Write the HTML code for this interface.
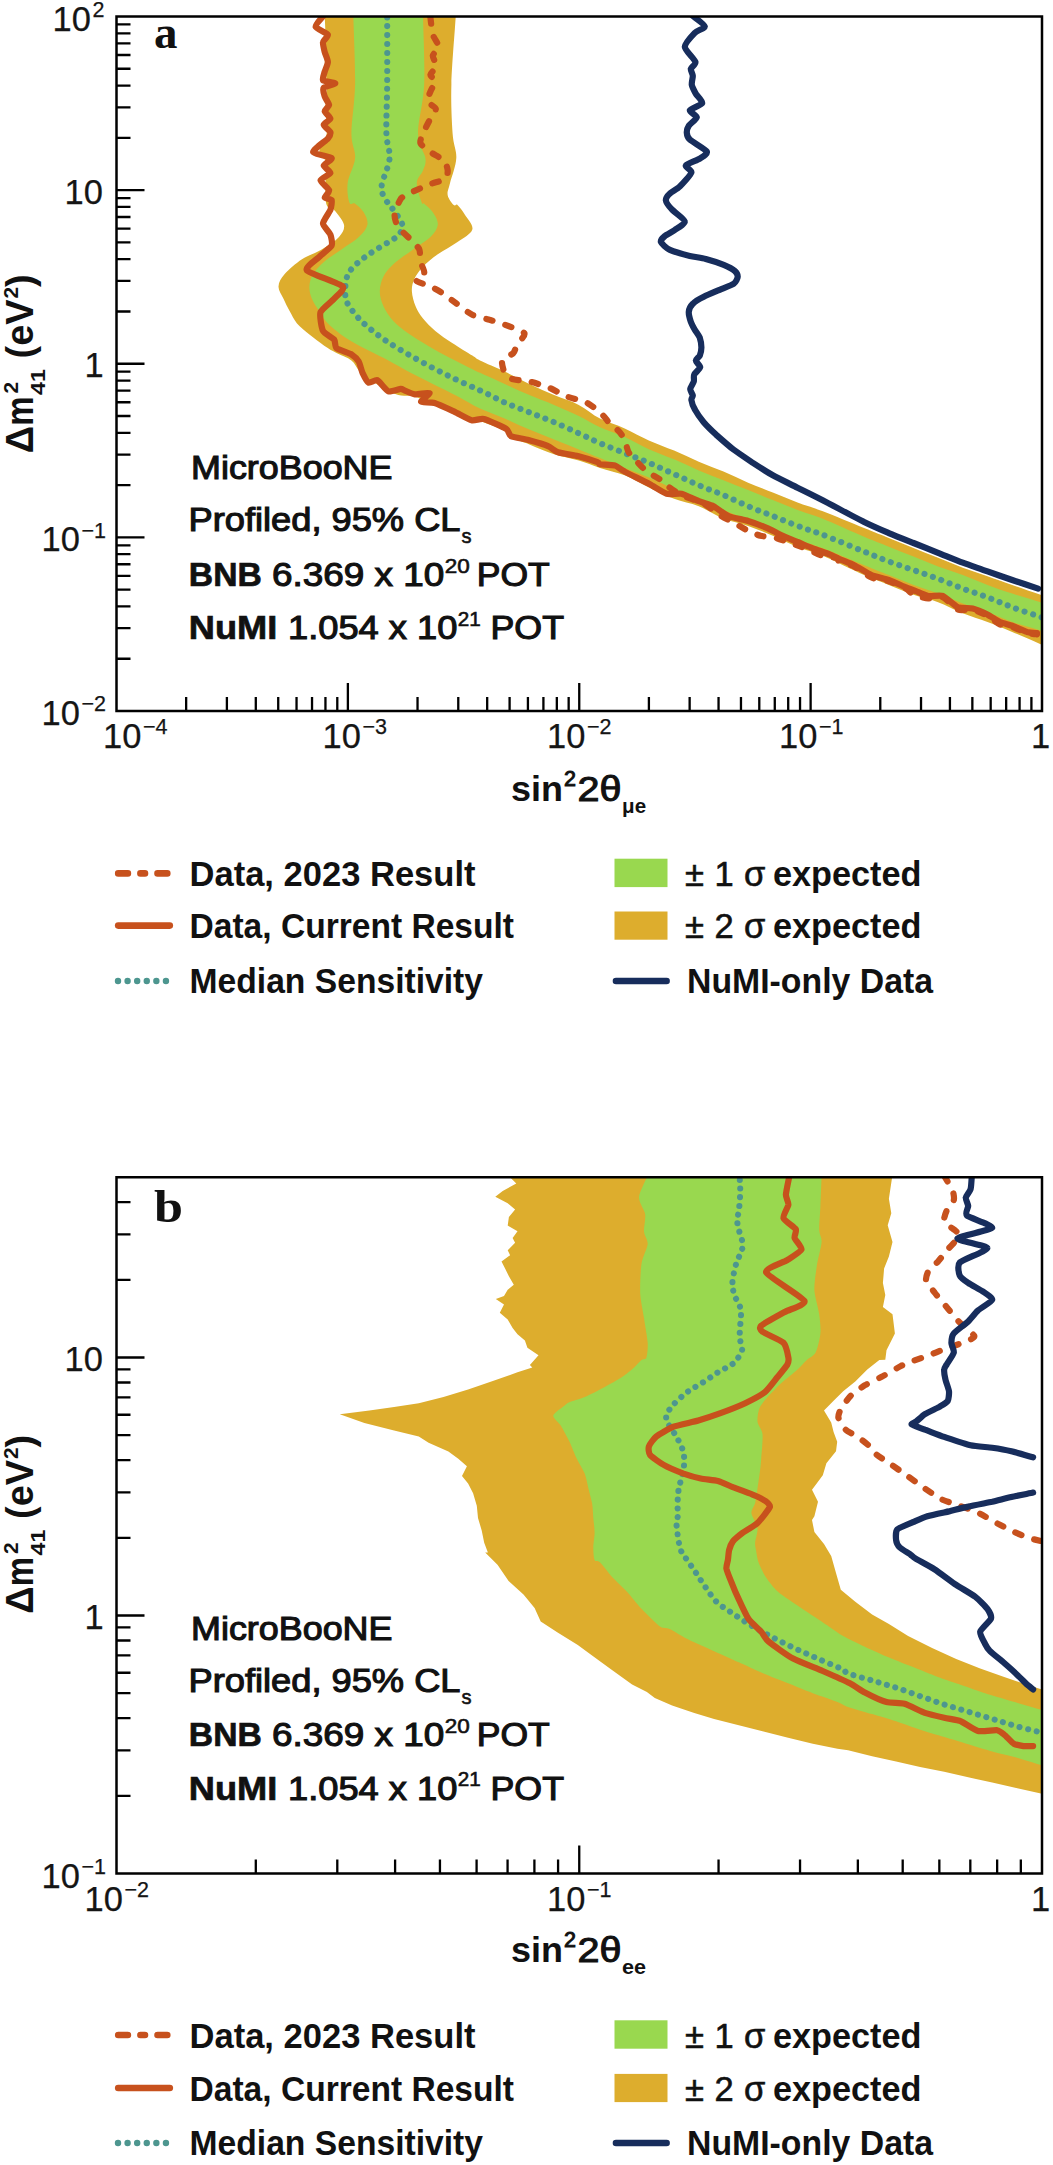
<!DOCTYPE html>
<html><head><meta charset="utf-8"><title>MicroBooNE exclusion limits</title>
<style>
html,body{margin:0;padding:0;background:#fff;}
body{width:1053px;height:2165px;overflow:hidden;font-family:"Liberation Sans",sans-serif;}
svg{display:block;}
text{font-family:"Liberation Sans",sans-serif;fill:#111;}
.tk{font-size:34.5px;fill:#151515;stroke:#151515;stroke-width:0.25px;}
.sup{font-size:21.5px;}
.lab{font-size:35px;font-weight:bold;}
.lab2{font-size:35px;stroke:#111;stroke-width:1.0px;}
.ann{font-size:33px;stroke:#111;stroke-width:1.1px;}
.b{font-weight:bold;stroke:#111;stroke-width:0.7px;}
.leg{font-size:34.5px;font-weight:bold;}
.legr{font-size:34.5px;stroke:#111;stroke-width:0.6px;}
.pl{font-family:"Liberation Serif",serif;font-weight:bold;font-size:47px;}
.ylab{font-size:38px;font-weight:bold;}
</style></head><body>
<svg width="1053" height="2165" viewBox="0 0 1053 2165">
<rect x="0" y="0" width="1053" height="2165" fill="#ffffff"/>

<clipPath id="ca"><rect x="116.5" y="16.5" width="925.5" height="694.5"/></clipPath>
<g clip-path="url(#ca)">
<path d="M324.7 -30.0 C302.8 -25.0 324.7 -7.5 324.7 0.0 C324.7 7.5 324.6 9.2 324.7 14.9 C324.8 20.7 325.4 27.3 325.4 34.7 C325.4 42.1 324.5 51.2 324.7 59.4 C324.9 67.6 326.5 75.8 326.7 84.1 C326.8 92.3 325.4 100.5 325.4 108.8 C325.4 117.0 327.7 126.3 326.7 133.5 C325.6 140.7 319.3 147.0 319.3 152.0 C319.3 156.9 325.6 157.9 326.7 163.1 C327.7 168.2 325.4 175.8 325.4 182.8 C325.4 189.8 325.2 200.6 326.7 205.1 C328.1 209.6 331.2 206.6 334.1 209.9 C337.0 213.1 343.1 220.2 344.0 224.7 C344.8 229.2 342.7 232.9 339.0 237.0 C335.3 241.2 327.9 245.7 321.7 249.4 C315.6 253.1 308.1 255.1 302.0 259.3 C295.8 263.4 288.6 269.5 284.7 274.1 C280.8 278.6 278.7 282.3 278.5 286.4 C278.3 290.5 281.6 294.7 283.5 298.8 C285.3 302.9 287.4 307.0 289.6 311.1 C291.9 315.2 293.7 319.5 297.0 323.5 C300.3 327.4 304.9 330.9 309.4 334.6 C313.9 338.3 319.7 342.6 324.2 345.7 C328.7 348.8 332.0 350.6 336.5 353.1 C341.1 355.6 347.7 357.6 351.4 360.5 C355.1 363.4 356.3 367.5 358.8 370.4 C361.2 373.3 362.1 374.9 366.2 377.8 C370.3 380.7 378.1 384.8 383.5 387.7 C388.8 390.5 393.0 393.6 398.3 395.1 C403.5 396.5 408.7 394.8 414.8 396.5 C420.9 398.2 428.0 402.2 434.6 405.0 C441.2 407.8 446.7 410.8 454.3 413.5 C461.9 416.2 471.6 418.1 480.0 421.0 C488.4 423.9 499.5 428.2 504.7 430.9 C509.8 433.5 506.7 434.8 510.9 437.0 C515.0 439.3 522.2 441.6 529.4 444.4 C536.6 447.3 545.8 451.6 554.1 454.3 C562.3 457.0 571.1 458.2 578.8 460.5 C586.4 462.8 592.3 465.4 600.0 467.9 C607.7 470.4 616.5 472.0 624.7 475.3 C632.9 478.6 641.2 483.7 649.4 487.7 C657.6 491.6 665.8 495.7 674.1 498.8 C682.3 501.9 690.5 502.9 698.8 506.2 C707.0 509.5 715.2 515.2 723.5 518.5 C731.7 521.8 739.9 523.0 748.1 525.9 C756.4 528.8 764.6 532.3 772.8 535.8 C781.1 539.3 789.3 543.6 797.5 546.9 C805.8 550.2 811.1 550.9 822.2 555.6 C833.3 560.2 853.0 570.2 864.1 575.1 C875.2 580.0 880.5 581.6 888.8 584.9 C897.0 588.2 905.2 591.9 913.5 594.8 C921.7 597.7 929.9 599.1 938.1 602.2 C946.4 605.3 954.6 610.0 962.8 613.3 C971.1 616.6 979.3 618.9 987.5 622.0 C995.8 625.1 1003.4 628.1 1012.2 631.9 C1021.1 635.6 1030.2 639.6 1040.6 644.2 C1051.1 648.7 1069.3 665.4 1075.0 659.1 C1080.7 652.9 1080.7 617.5 1075.0 606.8 C1069.3 596.1 1051.1 598.5 1040.6 594.8 C1030.2 591.2 1021.1 588.0 1012.2 584.9 C1003.4 581.9 995.8 579.2 987.5 576.3 C979.3 573.4 971.1 570.7 962.8 567.7 C954.6 564.6 946.4 561.1 938.1 557.8 C929.9 554.5 921.7 551.2 913.5 547.9 C905.2 544.6 897.0 541.3 888.8 538.0 C880.5 534.7 875.2 532.6 864.1 528.1 C853.0 523.7 833.3 515.4 822.2 511.1 C811.1 506.8 805.8 505.6 797.5 502.5 C789.3 499.4 781.1 495.9 772.8 492.6 C764.6 489.3 756.4 486.2 748.1 482.7 C739.9 479.2 731.7 475.1 723.5 471.6 C715.2 468.1 707.0 465.2 698.8 461.7 C690.5 458.2 682.3 454.1 674.1 450.6 C665.8 447.1 657.6 444.4 649.4 440.7 C641.2 437.0 632.9 432.1 624.7 428.4 C616.5 424.7 607.7 422.4 600.0 418.5 C592.3 414.6 586.4 408.8 578.8 404.9 C571.1 401.0 562.3 398.6 554.1 395.1 C545.8 391.6 537.6 387.9 529.4 384.0 C521.2 380.0 512.9 375.5 504.7 371.6 C496.5 367.7 485.4 363.2 480.0 360.5 C474.6 357.8 476.9 358.4 472.3 355.6 C467.8 352.7 458.8 347.3 452.6 343.2 C446.4 339.1 440.2 335.0 435.3 330.9 C430.4 326.7 426.3 322.6 423.0 318.5 C419.7 314.4 417.4 310.7 415.6 306.2 C413.7 301.6 412.1 295.9 411.9 291.4 C411.6 286.8 412.5 283.1 414.3 279.0 C416.2 274.9 419.1 270.8 423.0 266.7 C426.9 262.6 432.0 258.4 437.8 254.3 C443.5 250.2 451.8 246.1 457.5 242.0 C463.3 237.9 471.1 234.2 472.3 229.6 C473.6 225.1 467.4 218.9 464.9 214.8 C462.5 210.7 459.4 206.6 457.5 204.9 C455.7 203.3 455.5 206.7 453.8 205.1 C452.2 203.4 448.3 198.9 447.7 195.2 C447.0 191.5 448.7 189.0 450.1 182.8 C451.6 176.7 455.9 166.4 456.3 158.1 C456.7 149.9 453.4 145.8 452.6 133.5 C451.8 121.1 450.8 103.8 451.4 84.1 C451.9 64.3 455.1 29.0 455.8 14.9 C456.5 0.9 455.8 7.5 455.8 0.0 C455.8 -7.5 477.7 -25.0 455.8 -30.0 C433.9 -35.0 346.6 -35.0 324.7 -30.0Z" fill="#ddad2d"/>
<path d="M353.3 -30.0 C341.7 -25.0 353.3 -7.5 353.3 0.0 C353.3 7.5 353.0 0.9 353.3 14.9 C353.6 29.0 355.4 64.3 355.1 84.1 C354.7 103.8 351.4 121.1 351.4 133.5 C351.4 145.8 355.7 149.9 355.1 158.1 C354.4 166.4 348.6 175.4 347.7 182.8 C346.7 190.2 348.1 199.1 349.4 202.6 C350.6 206.1 352.7 202.1 355.1 203.7 C357.4 205.3 361.6 208.8 363.7 212.3 C365.8 215.8 368.2 220.6 367.4 224.7 C366.6 228.8 363.1 232.9 358.8 237.0 C354.4 241.2 347.2 245.3 341.5 249.4 C335.7 253.5 328.9 257.6 324.2 261.7 C319.5 265.8 315.6 270.0 313.1 274.1 C310.6 278.2 309.6 282.3 309.4 286.4 C309.2 290.5 310.2 294.7 311.9 298.8 C313.5 302.9 316.6 307.0 319.3 311.1 C321.9 315.2 323.4 318.9 327.9 323.5 C332.4 328.0 339.6 333.7 346.4 338.3 C353.2 342.8 361.6 346.9 368.6 350.6 C375.6 354.3 381.4 356.8 388.4 360.5 C395.4 364.2 403.2 368.9 410.6 372.8 C418.0 376.7 425.0 380.0 432.8 384.0 C440.7 387.9 449.7 392.2 457.5 396.3 C465.4 400.4 472.1 404.9 480.0 408.6 C487.9 412.3 496.5 415.0 504.7 418.5 C512.9 422.0 521.2 426.1 529.4 429.6 C537.6 433.1 545.8 436.2 554.1 439.5 C562.3 442.8 571.1 446.3 578.8 449.4 C586.4 452.5 592.3 454.9 600.0 458.0 C607.7 461.1 616.5 464.6 624.7 467.9 C632.9 471.2 641.2 474.3 649.4 477.8 C657.6 481.3 665.8 485.2 674.1 488.9 C682.3 492.6 690.5 496.5 698.8 500.0 C707.0 503.5 715.2 506.6 723.5 509.9 C731.7 513.2 739.9 516.5 748.1 519.8 C756.4 523.0 764.6 526.3 772.8 529.6 C781.1 532.9 789.3 536.4 797.5 539.5 C805.8 542.6 811.1 543.9 822.2 548.1 C833.3 552.4 853.0 560.7 864.1 565.2 C875.2 569.7 880.5 571.8 888.8 575.1 C897.0 578.4 905.2 581.9 913.5 584.9 C921.7 588.0 929.9 590.5 938.1 593.6 C946.4 596.7 954.6 600.4 962.8 603.5 C971.1 606.5 979.3 609.0 987.5 612.1 C995.8 615.2 1003.4 618.9 1012.2 622.0 C1021.1 625.1 1030.2 627.4 1040.6 630.6 C1051.1 633.8 1069.3 644.1 1075.0 641.1 C1080.7 638.1 1080.7 619.2 1075.0 612.7 C1069.3 606.2 1051.1 605.4 1040.6 602.2 C1030.2 599.0 1021.1 596.5 1012.2 593.6 C1003.4 590.7 995.8 588.0 987.5 584.9 C979.3 581.9 971.1 578.1 962.8 575.1 C954.6 572.0 946.4 569.5 938.1 566.4 C929.9 563.3 921.7 559.8 913.5 556.5 C905.2 553.3 897.0 550.0 888.8 546.7 C880.5 543.4 875.2 541.5 864.1 536.8 C853.0 532.1 833.3 523.0 822.2 518.5 C811.1 514.0 805.8 513.0 797.5 509.9 C789.3 506.8 781.1 503.3 772.8 500.0 C764.6 496.7 756.4 493.4 748.1 490.1 C739.9 486.8 731.7 483.5 723.5 480.2 C715.2 477.0 707.0 473.9 698.8 470.4 C690.5 466.9 682.3 462.8 674.1 459.3 C665.8 455.8 657.6 453.1 649.4 449.4 C641.2 445.7 632.9 440.7 624.7 437.0 C616.5 433.3 607.7 430.7 600.0 427.2 C592.3 423.7 586.4 419.8 578.8 416.0 C571.1 412.3 562.3 408.4 554.1 404.9 C545.8 401.4 537.6 398.6 529.4 395.1 C521.2 391.6 512.9 387.7 504.7 384.0 C496.5 380.2 485.0 375.1 480.0 372.8 C475.0 370.6 479.8 372.8 474.8 370.4 C469.8 367.9 457.9 362.1 450.1 358.0 C442.3 353.9 434.9 349.8 427.9 345.7 C420.9 341.6 413.9 337.4 408.1 333.3 C402.4 329.2 397.4 325.5 393.3 321.0 C389.2 316.5 385.7 311.1 383.5 306.2 C381.2 301.2 379.8 296.3 379.8 291.4 C379.8 286.4 381.2 281.1 383.5 276.5 C385.7 272.0 388.4 268.7 393.3 264.2 C398.3 259.7 406.9 253.9 413.1 249.4 C419.3 244.9 426.3 241.2 430.4 237.0 C434.5 232.9 437.4 228.8 437.8 224.7 C438.2 220.6 435.1 215.8 432.8 212.3 C430.6 208.8 426.0 205.3 424.2 203.7 C422.3 202.1 423.0 206.1 421.7 202.6 C420.5 199.1 416.6 188.2 416.8 182.8 C417.0 177.5 421.5 174.6 423.0 170.5 C424.4 166.4 426.3 164.3 425.4 158.1 C424.6 152.0 418.2 145.8 418.0 133.5 C417.8 121.1 423.4 103.8 424.2 84.1 C425.0 64.3 423.2 29.0 423.0 14.9 C422.8 0.9 423.0 7.5 423.0 0.0 C423.0 -7.5 434.6 -25.0 423.0 -30.0 C411.4 -35.0 364.9 -35.0 353.3 -30.0Z" fill="#99d84f"/>
<path d="M387.2 17.4 C387.2 28.5 387.3 64.7 387.2 84.1 C387.0 103.4 386.0 121.1 386.4 133.5 C386.8 145.8 390.3 149.9 389.6 158.1 C388.9 166.4 383.5 177.1 382.2 182.8 C381.0 188.6 381.2 189.2 382.2 192.7 C383.3 196.2 386.5 201.0 388.4 203.8 C390.2 206.7 391.1 206.6 393.3 209.9 C395.6 213.1 400.7 219.8 402.0 223.5 C403.2 227.2 402.0 229.6 400.7 232.1 C399.5 234.6 398.3 235.6 394.6 238.3 C390.9 240.9 383.7 244.9 378.5 248.1 C373.4 251.4 368.2 254.5 363.7 258.0 C359.2 261.5 354.2 265.6 351.4 269.1 C348.5 272.6 347.4 274.9 346.4 279.0 C345.4 283.1 345.0 289.7 345.2 293.8 C345.4 297.9 345.4 299.6 347.7 303.7 C349.9 307.8 354.9 314.2 358.8 318.5 C362.7 322.8 366.6 325.9 371.1 329.6 C375.6 333.3 379.8 336.6 385.9 340.7 C392.1 344.9 400.3 349.8 408.1 354.3 C416.0 358.8 424.6 363.6 432.8 367.9 C441.1 372.2 449.3 376.3 457.5 380.2 C465.8 384.2 474.4 387.7 482.2 391.4 C490.1 395.1 496.8 399.0 504.7 402.5 C512.6 406.0 521.2 409.1 529.4 412.3 C537.6 415.6 545.8 418.7 554.1 422.2 C562.3 425.7 571.1 429.8 578.8 433.3 C586.4 436.8 592.3 439.9 600.0 443.2 C607.7 446.5 616.5 449.8 624.7 453.1 C632.9 456.4 641.2 459.5 649.4 463.0 C657.6 466.5 665.8 470.4 674.1 474.1 C682.3 477.8 690.5 481.7 698.8 485.2 C707.0 488.7 715.2 491.6 723.5 495.1 C731.7 498.6 739.9 502.7 748.1 506.2 C756.4 509.7 764.6 512.8 772.8 516.0 C781.1 519.3 789.3 522.8 797.5 525.9 C805.8 529.0 811.1 530.3 822.2 534.6 C833.3 538.8 853.0 547.1 864.1 551.6 C875.2 556.1 880.5 558.4 888.8 561.5 C897.0 564.6 905.2 567.2 913.5 570.1 C921.7 573.0 929.9 575.7 938.1 578.8 C946.4 581.9 954.6 585.6 962.8 588.6 C971.1 591.7 979.3 594.2 987.5 597.3 C995.8 600.4 1003.4 603.9 1012.2 607.2 C1021.1 610.5 1034.9 615.0 1040.6 617.0 C1046.4 619.1 1045.8 619.1 1046.8 619.5" fill="none" stroke="#4d968f" stroke-width="6.1" stroke-linecap="round" stroke-dasharray="0.01 8.9"/>
<path d="M430.4 17.4 C430.7 19.4 431.8 31.2 432.8 34.7 C433.8 38.1 439.0 44.6 439.0 47.0 C439.0 49.5 433.1 53.4 432.8 55.7 C432.6 57.9 436.8 64.1 436.5 66.3 C436.3 68.5 430.5 72.9 430.4 74.7 C430.3 76.5 435.7 79.9 435.8 81.6 C435.9 83.3 432.6 86.7 431.6 89.0 C430.6 91.3 426.9 99.1 427.4 101.4 C427.9 103.7 435.6 106.5 435.8 108.8 C436.0 111.1 430.6 118.2 429.1 121.1 C427.6 124.0 424.0 130.9 423.0 133.5 C422.0 136.0 419.6 141.2 420.5 143.3 C421.4 145.5 427.6 150.0 430.4 152.0 C433.1 154.0 441.9 158.5 444.0 160.6 C446.0 162.8 447.5 168.3 447.7 170.5 C447.8 172.7 447.2 177.6 445.2 179.1 C443.2 180.7 434.4 182.5 430.4 184.1 C426.3 185.7 414.1 191.0 410.6 192.7 C407.2 194.4 402.6 196.3 400.7 198.9 C398.9 201.5 394.9 211.5 394.6 214.8 C394.3 218.1 396.4 224.3 398.3 227.2 C400.1 230.0 408.2 236.9 410.6 239.5 C413.1 242.1 418.1 246.8 419.3 249.4 C420.4 252.0 419.9 259.0 420.5 261.7 C421.1 264.5 424.8 270.7 424.2 272.8 C423.6 275.0 414.8 278.7 415.6 280.2 C416.3 281.8 427.3 285.0 430.4 286.4 C433.4 287.9 438.6 290.7 441.5 292.6 C444.4 294.5 451.5 299.9 455.1 302.5 C458.7 305.1 468.3 312.8 472.3 314.8 C476.4 316.8 485.9 318.6 489.6 319.8 C493.4 320.9 500.6 323.1 504.7 324.7 C508.8 326.3 523.0 331.0 524.4 333.3 C525.9 335.6 518.3 342.1 517.0 344.4 C515.7 346.7 515.1 351.2 513.3 353.1 C511.6 355.0 503.2 358.2 502.2 360.5 C501.2 362.8 503.5 370.7 504.7 372.8 C505.8 375.0 509.2 378.0 512.1 379.0 C515.0 380.0 525.1 380.5 529.4 381.5 C533.7 382.5 544.8 385.9 549.1 387.7 C553.5 389.4 562.1 394.6 566.4 396.3 C570.7 398.0 582.3 400.6 586.2 402.5 C590.1 404.3 597.2 409.9 600.0 412.3 C602.8 414.8 607.7 421.3 609.9 423.5 C612.0 425.6 616.8 429.0 618.5 430.9 C620.2 432.7 623.5 437.1 624.7 439.5 C625.8 442.0 627.0 449.3 628.4 451.9 C629.8 454.4 634.9 459.4 637.0 461.7 C639.2 464.0 644.3 469.6 646.9 471.6 C649.5 473.6 656.8 477.3 659.3 479.0 C661.7 480.7 665.3 484.5 667.9 486.4 C670.5 488.3 677.3 493.0 681.5 495.1 C685.7 497.1 699.1 501.3 703.7 503.7 C708.3 506.2 717.5 513.9 721.0 516.0 C724.4 518.2 730.5 520.6 733.3 522.2 C736.2 523.8 742.5 528.0 745.7 529.6 C748.8 531.2 757.3 534.9 760.5 535.8 C763.7 536.7 769.7 536.3 772.8 537.0 C776.0 537.8 783.9 540.7 787.7 542.0 C791.4 543.3 800.9 546.6 804.9 548.1 C809.0 549.7 818.5 554.4 822.2 555.6 C826.0 556.7 835.0 557.3 837.0 558.0 C839.0 558.7 837.4 560.5 839.4 561.5 C841.4 562.5 850.5 564.5 854.2 566.4 C857.9 568.3 867.4 575.8 871.5 577.5 C875.5 579.3 884.7 579.9 888.8 581.2 C892.8 582.5 903.2 587.1 906.0 588.6 C908.9 590.2 910.9 593.7 913.5 594.8 C916.0 596.0 924.8 598.2 928.3 598.5 C931.7 598.8 939.6 596.0 943.1 597.3 C946.5 598.6 954.4 608.2 957.9 609.6 C961.4 611.1 969.3 608.9 972.7 609.6 C976.2 610.3 984.4 614.1 987.5 615.8 C990.7 617.5 997.0 623.1 999.9 624.4 C1002.8 625.7 1009.1 625.9 1012.2 626.9 C1015.4 627.9 1024.2 632.2 1027.0 633.1 C1029.9 634.0 1035.8 634.2 1036.9 634.3" fill="none" stroke="#c7511d" stroke-width="6.2" stroke-linecap="round" stroke-linejoin="round" stroke-dasharray="6.5 13.5"/>
<path d="M323.0 16.2 C322.2 17.2 315.1 24.9 315.6 26.8 C316.0 28.6 327.2 33.2 327.9 34.7 C328.6 36.2 323.3 40.4 323.0 42.1 C322.6 43.8 324.2 50.0 324.7 52.0 C325.2 54.0 327.9 59.9 327.9 61.9 C327.9 63.8 325.2 69.9 324.7 71.7 C324.2 73.6 321.9 79.2 323.0 80.4 C324.0 81.5 335.2 82.6 335.3 83.3 C335.4 84.1 324.8 86.5 323.7 87.8 C322.6 89.1 324.1 94.7 324.7 96.4 C325.2 98.1 329.1 103.6 329.1 105.1 C329.1 106.5 324.6 109.9 324.7 111.2 C324.8 112.6 330.5 117.3 330.4 118.6 C330.3 120.0 323.7 123.5 323.7 124.8 C323.7 126.2 330.0 130.9 330.4 132.2 C330.8 133.6 329.6 136.4 327.9 138.4 C326.2 140.4 312.7 150.0 313.1 152.0 C313.5 154.0 330.5 156.8 331.6 158.1 C332.7 159.5 323.8 164.1 323.7 165.6 C323.6 167.0 330.7 171.5 330.4 173.0 C330.0 174.4 320.6 178.6 320.5 180.4 C320.4 182.1 328.7 188.5 329.1 190.2 C329.6 192.0 324.4 196.7 324.7 197.7 C324.9 198.6 331.0 198.8 331.6 200.0 C332.2 201.2 331.2 207.5 330.4 209.9 C329.5 212.2 323.0 221.0 323.0 223.5 C323.0 225.9 329.5 232.3 330.4 234.6 C331.2 236.8 332.7 243.5 331.6 245.7 C330.5 247.9 321.7 254.3 319.3 256.8 C316.8 259.3 304.6 267.4 306.9 270.4 C309.3 273.3 340.0 283.6 342.7 286.4 C345.4 289.3 336.3 296.2 334.1 298.8 C331.9 301.4 321.6 309.1 320.5 312.3 C319.4 315.6 321.6 328.1 323.0 330.9 C324.3 333.6 332.7 337.8 334.1 339.5 C335.4 341.2 334.8 346.7 336.5 348.1 C338.3 349.6 349.1 353.0 351.4 354.3 C353.6 355.7 357.7 359.9 358.8 361.7 C359.9 363.6 361.5 370.7 362.5 372.8 C363.5 374.9 367.2 382.0 368.6 382.7 C370.1 383.5 375.3 379.4 377.3 380.2 C379.3 381.1 386.0 390.5 388.4 391.4 C390.7 392.2 399.1 389.0 400.7 388.9 C402.4 388.8 403.5 390.1 404.9 390.6 C406.3 391.2 412.3 394.1 414.8 394.3 C417.3 394.6 429.0 392.3 429.6 393.1 C430.2 393.8 420.5 400.7 421.0 401.7 C421.5 402.7 431.2 402.0 434.6 403.0 C437.9 404.0 450.6 409.9 454.3 411.6 C458.0 413.3 468.6 419.5 471.6 420.2 C474.6 421.0 480.5 418.1 484.0 419.0 C487.4 419.9 503.5 427.2 506.2 428.9 C508.9 430.6 508.9 435.2 511.1 436.3 C513.3 437.4 524.7 439.0 528.4 440.0 C532.1 441.0 545.2 444.9 548.1 446.2 C551.1 447.4 555.1 451.4 558.0 452.3 C561.0 453.3 573.8 455.1 577.8 456.0 C581.7 457.0 595.3 461.4 597.5 462.2 C599.8 463.0 598.3 463.9 600.0 464.2 C601.7 464.5 612.3 464.7 614.8 465.4 C617.3 466.2 621.2 469.8 624.7 471.6 C628.1 473.5 645.2 481.7 649.4 484.0 C653.6 486.2 663.5 492.8 666.7 493.8 C669.9 494.8 678.3 493.1 681.5 493.8 C684.7 494.6 695.6 500.0 698.8 501.2 C702.0 502.5 710.6 504.7 713.6 506.2 C716.5 507.7 724.9 514.6 728.4 516.0 C731.9 517.5 744.2 519.8 748.1 521.0 C752.1 522.2 764.4 526.9 767.9 528.4 C771.4 529.9 779.8 534.4 782.7 535.8 C785.7 537.2 794.6 540.7 797.5 542.0 C800.5 543.2 809.1 546.9 812.3 548.1 C815.6 549.4 826.9 553.2 829.6 554.3 C832.3 555.4 836.9 557.9 839.4 559.0 C841.8 560.1 851.0 563.6 854.2 565.2 C857.4 566.8 868.0 573.6 871.5 575.1 C874.9 576.5 885.3 578.8 888.8 580.0 C892.2 581.2 903.3 586.3 906.0 587.4 C908.8 588.5 913.7 590.2 915.9 591.1 C918.1 592.0 925.6 595.6 928.3 596.0 C931.0 596.5 940.1 594.9 943.1 596.0 C946.0 597.2 954.9 605.9 957.9 607.2 C960.9 608.4 969.8 607.7 972.7 608.4 C975.7 609.1 984.8 613.2 987.5 614.6 C990.2 615.9 997.4 620.9 999.9 622.0 C1002.3 623.1 1009.5 624.7 1012.2 625.7 C1014.9 626.7 1024.6 631.1 1027.0 631.9 C1029.5 632.6 1035.9 633.0 1036.9 633.1" fill="none" stroke="#c7511d" stroke-width="6.2" stroke-linecap="round" stroke-linejoin="round"/>
<path d="M692.8 16.0 C694.2 17.2 704.5 24.4 704.8 26.4 C705.0 28.3 697.1 30.5 694.8 32.9 C692.5 35.3 684.7 43.5 684.8 46.9 C684.9 50.3 694.7 59.3 695.4 61.9 C696.1 64.4 691.1 67.2 690.8 68.8 C690.5 70.5 692.7 74.0 692.8 75.8 C692.9 77.7 691.4 82.7 691.8 84.8 C692.1 86.9 694.6 91.6 695.8 93.8 C697.0 95.9 702.9 101.2 702.2 103.1 C701.5 105.1 690.4 108.7 689.8 110.3 C689.2 112.0 696.9 115.5 696.8 117.3 C696.7 119.1 690.0 123.9 688.8 125.7 C687.6 127.5 686.7 131.0 686.8 132.7 C686.9 134.3 687.5 137.4 689.8 139.6 C692.1 141.8 705.6 149.4 706.8 151.6 C707.9 153.8 702.2 157.0 699.8 158.6 C697.3 160.2 686.8 163.9 685.8 165.6 C684.8 167.2 692.1 170.1 691.4 172.5 C690.7 175.0 682.3 184.1 679.8 186.5 C677.3 188.9 671.5 191.9 669.9 193.5 C668.2 195.1 665.6 198.6 665.9 200.5 C666.1 202.3 669.6 207.0 671.9 209.4 C674.1 211.9 684.5 219.0 684.8 221.4 C685.2 223.8 677.2 228.3 674.8 230.0 C672.5 231.7 666.5 234.6 664.9 236.0 C663.2 237.4 660.3 240.3 660.9 241.9 C661.5 243.6 666.5 248.3 669.9 249.9 C673.2 251.5 685.6 254.9 689.8 255.9 C694.0 256.9 701.8 257.8 705.8 258.9 C709.7 259.9 720.3 263.5 723.7 264.9 C727.1 266.3 733.1 269.5 734.7 270.9 C736.3 272.3 737.8 275.3 737.7 276.8 C737.6 278.4 735.8 282.3 733.7 283.8 C731.6 285.3 723.2 288.3 719.7 289.8 C716.2 291.3 706.9 295.2 703.8 296.8 C700.6 298.4 694.5 302.0 692.8 303.8 C691.1 305.5 689.0 309.6 688.8 311.7 C688.6 313.8 690.1 319.6 690.8 321.7 C691.5 323.8 693.7 327.8 694.8 329.7 C695.8 331.6 699.0 335.6 699.8 337.7 C700.5 339.8 701.4 345.5 701.4 347.6 C701.4 349.7 700.4 354.1 699.8 355.6 C699.1 357.1 695.7 359.3 695.8 360.6 C695.8 362.0 700.4 365.6 700.2 367.2 C700.0 368.8 694.9 372.9 694.2 374.6 C693.4 376.2 694.3 379.8 693.8 381.5 C693.3 383.2 690.3 387.5 690.2 389.1 C690.1 390.8 692.7 394.2 692.8 395.5 C692.9 396.8 691.1 398.3 691.4 400.0 C691.6 401.7 693.6 407.3 695.1 409.9 C696.5 412.5 701.3 419.3 703.7 422.2 C706.2 425.1 712.6 431.4 716.0 434.6 C719.5 437.7 729.0 446.1 733.3 449.4 C737.7 452.7 748.5 459.9 753.1 463.0 C757.7 466.0 767.7 472.4 772.8 475.3 C778.0 478.2 791.8 484.8 797.5 487.7 C803.3 490.5 814.5 496.0 822.2 500.0 C830.0 504.0 856.3 518.1 864.1 522.0 C871.8 525.8 883.0 530.6 888.8 533.1 C894.5 535.5 907.7 540.7 913.5 543.0 C919.2 545.3 932.4 550.5 938.1 552.8 C943.9 555.1 957.1 560.6 962.8 562.7 C968.6 564.9 981.8 569.3 987.5 571.4 C993.3 573.4 1006.3 578.0 1012.2 580.0 C1018.1 582.0 1035.1 587.6 1038.1 588.6" fill="none" stroke="#172d5c" stroke-width="6.2" stroke-linecap="round" stroke-linejoin="round"/>
</g>
<path d="M186.15 711.0 v-14 M116.5 658.73 h14 M226.89 711.0 v-14 M116.5 628.16 h14 M255.80 711.0 v-14 M116.5 606.47 h14 M278.22 711.0 v-14 M116.5 589.64 h14 M296.54 711.0 v-14 M116.5 575.89 h14 M312.03 711.0 v-14 M116.5 564.27 h14 M325.45 711.0 v-14 M116.5 554.20 h14 M337.29 711.0 v-14 M116.5 545.32 h14 M347.88 711.0 v-28 M116.5 537.38 h28 M417.53 711.0 v-14 M116.5 485.11 h14 M458.27 711.0 v-14 M116.5 454.53 h14 M487.18 711.0 v-14 M116.5 432.84 h14 M509.60 711.0 v-14 M116.5 416.02 h14 M527.92 711.0 v-14 M116.5 402.27 h14 M543.41 711.0 v-14 M116.5 390.64 h14 M556.83 711.0 v-14 M116.5 380.58 h14 M568.66 711.0 v-14 M116.5 371.69 h14 M579.25 711.0 v-28 M116.5 363.75 h28 M648.90 711.0 v-14 M116.5 311.48 h14 M689.64 711.0 v-14 M116.5 280.91 h14 M718.55 711.0 v-14 M116.5 259.22 h14 M740.97 711.0 v-14 M116.5 242.39 h14 M759.29 711.0 v-14 M116.5 228.64 h14 M774.78 711.0 v-14 M116.5 217.02 h14 M788.20 711.0 v-14 M116.5 206.95 h14 M800.04 711.0 v-14 M116.5 198.07 h14 M810.62 711.0 v-28 M116.5 190.12 h28 M880.28 711.0 v-14 M116.5 137.86 h14 M921.02 711.0 v-14 M116.5 107.28 h14 M949.93 711.0 v-14 M116.5 85.59 h14 M972.35 711.0 v-14 M116.5 68.77 h14 M990.67 711.0 v-14 M116.5 55.02 h14 M1006.16 711.0 v-14 M116.5 43.39 h14 M1019.58 711.0 v-14 M116.5 33.33 h14 M1031.41 711.0 v-14 M116.5 24.44 h14" stroke="#000" stroke-width="2.3" fill="none"/>
<path d="M116.5 16.5 H1042.0 V711.0 H116.5 Z" stroke="#000" stroke-width="2.5" fill="none"/>
<clipPath id="cb"><rect x="116.5" y="1177.2" width="925.5" height="696.3"/></clipPath>
<g clip-path="url(#cb)">
<polygon points="507.7,1174.9 516.3,1183.6 502.7,1191.0 495.3,1196.7 507.7,1203.3 515.1,1209.5 508.9,1216.9 507.7,1225.6 517.5,1231.2 512.6,1237.9 515.1,1242.8 507.7,1250.2 510.1,1255.2 501.5,1261.4 505.2,1268.8 508.9,1276.2 513.8,1284.8 507.7,1289.8 504.0,1295.9 495.8,1298.9 504.0,1304.6 499.8,1312.7 507.7,1319.4 512.6,1328.0 517.5,1334.2 524.9,1340.4 527.4,1347.8 538.5,1355.2 529.9,1365.1 532.3,1367.4 517.5,1372.3 492.8,1381.0 468.1,1389.6 443.5,1397.0 418.8,1403.2 394.1,1406.9 369.4,1410.6 339.8,1414.3 364.4,1423.0 394.1,1430.4 418.8,1436.5 428.6,1442.7 448.4,1451.4 458.3,1458.8 466.9,1466.2 462.0,1476.0 468.1,1483.5 473.1,1493.3 476.8,1505.7 478.0,1518.0 481.7,1530.4 484.2,1542.7 487.9,1552.6 485.2,1552.5 497.5,1564.8 508.6,1580.9 523.5,1594.4 534.6,1608.0 540.7,1621.6 558.0,1632.7 577.8,1645.1 591.4,1654.9 609.9,1668.5 632.1,1684.6 646.9,1692.0 654.8,1698.1 672.1,1705.6 694.3,1713.0 714.1,1719.1 738.8,1725.3 763.5,1731.5 788.1,1737.7 812.8,1743.8 837.5,1748.8 848.1,1750.2 872.1,1756.2 896.1,1761.5 920.1,1767.0 944.2,1771.8 968.2,1777.3 992.2,1782.6 1016.2,1787.9 1043.9,1794.1 1043.9,1690.1 1028.3,1685.3 1004.2,1676.9 980.2,1668.5 956.2,1658.9 932.1,1648.1 908.1,1636.0 888.9,1624.0 872.1,1614.4 855.3,1601.7 840.8,1589.7 836.0,1572.9 831.2,1556.0 824.0,1544.0 814.4,1532.0 812.0,1520.0 814.4,1516.2 818.0,1501.8 812.0,1489.7 822.8,1475.3 826.4,1463.3 836.0,1451.3 837.2,1441.7 833.6,1432.1 831.2,1422.5 824.0,1410.5 833.6,1400.8 843.2,1391.2 855.3,1381.6 867.3,1369.6 879.3,1360.0 885.3,1359.8 886.5,1350.2 894.9,1333.4 892.5,1314.2 882.9,1307.0 885.3,1294.9 882.9,1282.9 884.1,1268.5 888.9,1256.5 892.5,1242.1 887.7,1225.3 891.3,1213.2 888.9,1198.8 892.5,1174.8" fill="#ddad2d"/>
<path d="M647.6 1140.0 C624.4 1143.3 647.6 1160.3 647.6 1165.0 C647.6 1169.7 648.8 1170.7 647.7 1174.9 C646.5 1179.2 639.3 1191.9 639.0 1197.2 C638.7 1202.4 644.5 1209.8 645.2 1214.4 C645.8 1219.1 643.6 1227.8 644.0 1231.7 C644.3 1235.7 648.0 1239.8 647.7 1244.1 C647.3 1248.4 642.5 1257.2 641.5 1263.8 C640.5 1270.4 639.9 1286.2 640.2 1293.5 C640.6 1300.7 643.0 1311.6 644.0 1318.1 C644.9 1324.7 647.3 1337.6 647.7 1342.8 C648.0 1348.1 647.2 1355.4 646.4 1357.7 C645.6 1359.9 643.1 1358.7 641.5 1360.0 C639.8 1361.3 636.7 1365.1 634.1 1367.4 C631.4 1369.7 625.7 1374.7 621.7 1377.3 C617.8 1379.9 609.4 1384.5 604.4 1387.2 C599.5 1389.8 589.3 1395.1 584.7 1397.0 C580.1 1399.0 572.6 1400.8 569.9 1402.0 C567.2 1403.1 566.7 1403.9 564.4 1405.7 C562.2 1407.5 553.8 1412.9 553.3 1415.6 C552.8 1418.2 558.6 1422.0 560.7 1425.4 C562.9 1428.9 567.2 1437.0 569.4 1441.5 C571.5 1445.9 574.7 1454.5 576.8 1458.8 C578.8 1463.0 583.1 1469.6 584.7 1473.6 C586.2 1477.5 587.4 1484.4 588.4 1488.4 C589.4 1492.3 591.4 1499.3 592.1 1503.2 C592.8 1507.2 593.0 1514.1 593.3 1518.0 C593.7 1522.0 594.6 1528.9 594.6 1532.8 C594.6 1536.8 593.3 1544.0 593.3 1547.7 C593.3 1551.3 593.7 1558.0 594.6 1560.0 C595.5 1562.0 597.6 1560.1 600.0 1562.3 C602.4 1564.6 608.7 1573.2 612.3 1577.2 C616.0 1581.1 623.2 1587.7 627.2 1592.0 C631.1 1596.3 637.6 1604.7 642.0 1609.3 C646.4 1613.9 656.3 1623.9 660.0 1626.5 C663.7 1629.2 665.7 1627.2 669.6 1629.0 C673.5 1630.8 683.5 1637.2 689.4 1640.1 C695.3 1643.1 707.5 1648.3 714.1 1651.2 C720.7 1654.2 732.2 1659.4 738.8 1662.3 C745.3 1665.3 756.9 1670.7 763.5 1673.5 C770.0 1676.3 781.6 1680.7 788.1 1683.3 C794.7 1686.0 806.3 1690.7 812.8 1693.2 C819.4 1695.7 832.8 1700.0 837.5 1701.9 C842.2 1703.7 843.4 1705.3 848.1 1706.9 C852.7 1708.6 865.7 1712.2 872.1 1714.1 C878.5 1716.0 889.7 1719.3 896.1 1721.3 C902.5 1723.4 913.7 1727.7 920.1 1729.7 C926.5 1731.8 937.8 1735.0 944.2 1737.0 C950.6 1738.9 961.8 1742.2 968.2 1744.2 C974.6 1746.1 985.8 1749.6 992.2 1751.4 C998.6 1753.1 1009.4 1755.5 1016.2 1757.4 C1023.1 1759.3 1036.7 1763.8 1043.9 1765.8 C1051.0 1767.7 1066.5 1778.5 1070.0 1772.0 C1073.5 1765.5 1073.5 1725.2 1070.0 1717.0 C1066.5 1708.8 1052.3 1712.8 1043.9 1710.5 C1035.4 1708.2 1014.8 1702.1 1006.6 1699.7 C998.5 1697.3 989.0 1694.6 982.6 1692.5 C976.2 1690.4 965.0 1686.3 958.6 1684.1 C952.2 1681.9 941.0 1678.1 934.6 1675.7 C928.1 1673.3 916.9 1668.6 910.5 1666.1 C904.1 1663.5 892.9 1659.2 886.5 1656.5 C880.1 1653.7 868.2 1648.4 862.5 1645.7 C856.7 1642.9 847.7 1638.6 843.2 1636.0 C838.8 1633.5 832.7 1629.0 828.8 1626.4 C825.0 1623.9 818.3 1619.4 814.4 1616.8 C810.6 1614.3 804.8 1610.5 800.0 1607.2 C795.2 1603.9 782.8 1596.0 778.3 1592.0 C773.7 1588.0 768.6 1581.1 765.9 1577.2 C763.3 1573.2 759.8 1566.0 758.5 1562.3 C757.2 1558.7 756.5 1552.6 756.0 1550.0 C755.6 1547.4 754.9 1545.7 755.1 1542.7 C755.3 1539.8 758.0 1531.9 757.5 1527.9 C757.0 1524.0 751.7 1516.4 751.4 1513.1 C751.0 1509.8 754.2 1506.5 755.1 1503.2 C755.9 1499.9 756.9 1492.7 757.5 1488.4 C758.2 1484.1 759.5 1475.1 760.0 1471.1 C760.5 1467.2 760.9 1463.7 761.2 1458.8 C761.6 1453.8 763.0 1439.0 762.5 1434.1 C762.0 1429.1 757.9 1425.3 757.5 1421.7 C757.2 1418.1 758.0 1410.9 760.0 1406.9 C762.0 1403.0 769.4 1395.4 772.3 1392.1 C775.3 1388.8 778.9 1385.2 782.2 1382.2 C785.5 1379.3 793.7 1372.8 797.0 1369.9 C800.3 1366.9 804.4 1362.3 806.9 1360.0 C809.4 1357.7 813.8 1356.2 815.6 1352.6 C817.4 1349.1 819.9 1338.5 820.4 1333.4 C820.9 1328.3 820.0 1319.9 819.2 1314.2 C818.4 1308.4 814.7 1296.5 814.4 1290.1 C814.1 1283.7 815.9 1272.5 816.8 1266.1 C817.8 1259.7 821.3 1246.9 821.6 1242.1 C821.9 1237.3 819.4 1234.9 819.2 1230.1 C819.1 1225.3 820.1 1213.4 820.4 1206.0 C820.7 1198.7 821.5 1180.3 821.6 1174.8 C821.8 1169.3 821.6 1169.6 821.6 1165.0 C821.6 1160.4 844.8 1143.3 821.6 1140.0 C798.4 1136.7 670.8 1136.7 647.6 1140.0Z" fill="#99d84f"/>
<path d="M739.8 1179.9 C739.8 1181.9 740.4 1187.3 740.2 1192.2 C740.1 1197.2 739.5 1205.0 739.0 1209.5 C738.5 1214.0 737.4 1216.3 737.3 1219.4 C737.2 1222.5 737.4 1223.9 738.3 1228.0 C739.2 1232.1 742.4 1239.8 742.7 1244.1 C743.0 1248.4 741.3 1250.9 740.2 1254.0 C739.2 1257.0 737.8 1258.5 736.5 1262.6 C735.3 1266.7 733.5 1274.3 732.8 1278.6 C732.2 1283.0 732.4 1285.4 732.8 1288.5 C733.3 1291.6 734.2 1294.4 735.3 1297.2 C736.4 1300.0 738.6 1302.4 739.5 1305.3 C740.5 1308.2 740.9 1310.0 741.0 1314.4 C741.0 1318.8 739.9 1327.4 739.8 1331.7 C739.6 1336.0 739.8 1337.5 740.2 1340.4 C740.7 1343.3 742.4 1346.3 742.2 1349.0 C742.0 1351.7 740.6 1354.0 739.0 1356.4 C737.4 1358.9 736.3 1361.2 732.8 1363.8 C729.3 1366.5 723.1 1369.2 718.0 1372.3 C713.0 1375.5 707.6 1379.4 702.5 1382.7 C697.3 1386.0 692.0 1388.5 687.2 1392.1 C682.3 1395.7 676.8 1401.1 673.6 1404.4 C670.4 1407.8 669.1 1409.7 667.9 1412.3 C666.7 1415.0 665.4 1416.7 666.7 1420.5 C667.9 1424.3 673.3 1431.4 675.6 1435.3 C677.8 1439.2 678.9 1441.1 680.2 1444.0 C681.6 1446.8 682.8 1449.7 683.5 1452.6 C684.1 1455.5 684.2 1458.4 684.2 1461.2 C684.2 1464.1 683.9 1467.0 683.5 1469.9 C683.0 1472.8 682.2 1475.6 681.5 1478.5 C680.7 1481.4 679.6 1484.3 679.0 1487.2 C678.4 1490.0 678.3 1492.7 678.0 1495.8 C677.8 1498.9 677.5 1502.6 677.5 1505.7 C677.5 1508.8 678.2 1511.4 678.0 1514.3 C677.9 1517.2 676.7 1520.1 676.5 1523.0 C676.4 1525.8 677.0 1528.7 677.3 1531.6 C677.6 1534.5 678.0 1537.2 678.5 1540.2 C679.1 1543.3 679.3 1546.7 680.5 1549.6 C681.6 1552.5 682.9 1553.8 685.4 1557.5 C687.9 1561.3 692.2 1567.3 695.6 1572.2 C698.9 1577.1 701.9 1582.1 705.4 1587.0 C708.9 1592.0 712.4 1597.7 716.5 1601.9 C720.7 1606.0 725.4 1608.4 730.1 1611.7 C734.9 1615.0 738.6 1617.7 744.9 1621.6 C751.3 1625.5 760.4 1630.9 768.4 1635.2 C776.4 1639.5 784.9 1643.6 793.1 1647.5 C801.3 1651.4 809.5 1655.0 817.8 1658.6 C826.0 1662.3 837.4 1666.8 842.5 1669.3 C847.5 1671.7 843.1 1671.4 848.1 1673.3 C853.0 1675.2 864.1 1678.1 872.1 1680.5 C880.1 1682.9 888.1 1685.1 896.1 1687.7 C904.1 1690.3 912.1 1693.3 920.1 1696.1 C928.1 1698.9 936.2 1701.9 944.2 1704.5 C952.2 1707.1 960.2 1709.3 968.2 1711.7 C976.2 1714.1 984.2 1716.5 992.2 1718.9 C1000.2 1721.3 1007.8 1723.8 1016.2 1726.1 C1024.7 1728.5 1038.3 1731.7 1042.7 1732.9" fill="none" stroke="#4d968f" stroke-width="6.1" stroke-linecap="round" stroke-dasharray="0.01 8.7"/>
<path d="M944.2 1176.0 C945.0 1177.4 951.6 1188.0 952.6 1190.4 C953.5 1192.8 954.4 1198.0 953.8 1200.0 C953.2 1202.1 947.5 1208.7 946.6 1210.8 C945.6 1213.0 943.2 1219.6 944.2 1221.7 C945.1 1223.7 954.7 1229.7 956.2 1231.3 C957.6 1232.8 959.3 1235.6 958.6 1237.3 C957.9 1239.0 951.0 1245.7 949.0 1248.1 C946.9 1250.5 940.2 1259.0 938.2 1261.3 C936.1 1263.6 929.7 1269.0 928.5 1270.9 C927.3 1272.8 925.5 1278.4 926.1 1280.5 C926.7 1282.7 932.5 1289.9 934.6 1292.5 C936.6 1295.2 944.2 1304.1 946.6 1307.0 C949.0 1309.8 955.8 1318.5 958.6 1321.4 C961.3 1324.3 973.2 1333.9 974.2 1335.8 C975.2 1337.7 969.8 1339.8 968.2 1340.6 C966.6 1341.4 961.2 1343.2 958.6 1344.2 C955.9 1345.2 944.6 1349.1 941.8 1350.2 C938.9 1351.3 932.6 1353.9 929.7 1355.0 C926.9 1356.1 915.8 1359.9 912.9 1361.0 C910.0 1362.1 904.0 1364.4 900.9 1366.0 C897.8 1367.6 885.3 1374.9 881.7 1376.8 C878.1 1378.7 868.0 1383.3 864.9 1385.2 C861.7 1387.2 852.9 1393.6 850.5 1396.0 C848.1 1398.4 842.0 1407.1 840.8 1409.3 C839.6 1411.4 838.0 1415.6 838.4 1417.7 C838.9 1419.7 843.7 1427.8 845.7 1429.7 C847.6 1431.6 855.4 1435.3 857.7 1436.9 C859.9 1438.4 866.6 1443.5 868.5 1445.3 C870.4 1447.1 874.6 1453.0 876.9 1454.9 C879.2 1456.8 888.2 1462.4 891.3 1464.5 C894.4 1466.7 904.8 1474.1 908.1 1476.5 C911.5 1478.9 921.6 1486.3 924.9 1488.5 C928.3 1490.8 938.4 1497.7 941.8 1499.4 C945.1 1501.0 955.0 1504.0 958.6 1505.4 C962.2 1506.7 973.7 1510.6 977.8 1512.6 C981.9 1514.5 995.8 1522.7 999.4 1524.6 C1003.0 1526.5 1011.0 1530.5 1013.8 1531.8 C1016.7 1533.1 1025.4 1536.8 1028.3 1537.8 C1031.1 1538.8 1041.2 1541.0 1042.7 1541.4" fill="none" stroke="#c7511d" stroke-width="6.2" stroke-linecap="round" stroke-linejoin="round" stroke-dasharray="6.5 13.5"/>
<path d="M789.6 1174.9 C789.3 1176.9 786.0 1191.7 785.9 1194.7 C785.8 1197.7 788.6 1202.2 788.4 1204.6 C788.1 1206.9 782.7 1215.7 783.5 1218.1 C784.2 1220.6 794.7 1227.3 795.8 1229.3 C796.9 1231.2 794.0 1235.9 794.6 1237.9 C795.1 1239.9 802.2 1247.3 801.5 1249.5 C800.7 1251.7 790.7 1257.8 787.2 1260.1 C783.6 1262.4 764.4 1268.4 766.2 1272.5 C767.9 1276.5 802.6 1296.9 804.4 1300.9 C806.3 1304.8 789.0 1309.5 784.7 1312.0 C780.4 1314.4 763.5 1323.6 761.2 1325.6 C759.0 1327.5 760.2 1330.0 762.5 1331.7 C764.7 1333.5 780.9 1340.2 783.5 1342.8 C786.0 1345.4 788.0 1355.4 788.4 1357.7 C788.8 1359.9 788.3 1363.0 787.2 1364.9 C786.0 1366.9 779.5 1374.6 777.3 1377.3 C775.1 1380.0 768.1 1389.5 764.9 1392.1 C761.7 1394.7 749.6 1401.1 745.2 1403.2 C740.7 1405.3 725.2 1411.4 720.5 1413.1 C715.8 1414.8 703.0 1419.1 698.3 1420.5 C693.6 1421.9 677.8 1425.1 673.6 1426.7 C669.4 1428.3 658.8 1434.6 656.3 1436.5 C653.8 1438.5 649.5 1444.6 648.9 1446.4 C648.3 1448.3 648.6 1453.2 650.1 1455.1 C651.6 1456.9 660.4 1463.1 663.7 1464.9 C667.0 1466.8 679.8 1472.2 683.5 1473.6 C687.2 1474.9 697.3 1477.8 700.7 1478.5 C704.2 1479.3 714.8 1480.1 718.0 1481.0 C721.2 1481.9 729.4 1485.8 732.8 1487.2 C736.3 1488.5 749.4 1493.2 752.6 1494.6 C755.8 1495.9 763.2 1499.5 764.9 1500.7 C766.7 1502.0 770.6 1504.7 769.9 1506.9 C769.1 1509.1 760.2 1520.4 757.5 1523.0 C754.8 1525.6 745.2 1531.0 742.7 1532.8 C740.2 1534.7 734.2 1539.8 732.8 1541.5 C731.5 1543.2 729.6 1548.3 729.1 1550.1 C728.6 1552.0 728.2 1558.2 727.9 1560.0 C727.6 1561.8 726.1 1566.3 726.4 1568.5 C726.8 1570.7 730.1 1579.0 731.4 1582.1 C732.6 1585.2 737.0 1595.7 738.8 1599.4 C740.5 1603.1 746.4 1615.9 748.6 1619.1 C750.9 1622.3 759.0 1629.3 761.0 1631.5 C763.0 1633.7 765.2 1638.6 768.4 1641.4 C771.6 1644.1 787.7 1655.7 793.1 1658.6 C798.5 1661.6 817.0 1668.5 822.7 1671.0 C828.4 1673.5 845.7 1681.2 849.9 1683.3 C854.1 1685.5 861.2 1690.6 864.9 1692.5 C868.5 1694.4 882.5 1701.0 886.5 1702.1 C890.5 1703.2 900.7 1702.7 904.5 1703.8 C908.4 1704.9 921.0 1711.5 924.9 1712.9 C928.9 1714.3 940.6 1716.9 944.2 1717.7 C947.8 1718.6 957.6 1720.0 961.0 1721.3 C964.3 1722.7 974.2 1730.1 977.8 1730.9 C981.4 1731.8 994.4 1729.9 997.0 1730.2 C999.7 1730.6 1002.5 1733.2 1004.2 1734.6 C1005.9 1735.9 1011.9 1742.5 1013.8 1743.7 C1015.8 1744.8 1021.5 1745.8 1023.5 1746.1 C1025.4 1746.3 1032.1 1746.1 1033.1 1746.1" fill="none" stroke="#c7511d" stroke-width="6.2" stroke-linecap="round" stroke-linejoin="round"/>
<path d="M971.8 1176.0 C971.7 1177.3 971.2 1187.1 970.6 1189.2 C970.0 1191.4 966.0 1195.9 965.8 1197.6 C965.5 1199.3 968.1 1204.2 968.2 1206.0 C968.3 1207.8 964.6 1213.5 967.0 1215.7 C969.4 1217.8 993.2 1225.4 992.2 1227.7 C991.3 1229.9 957.9 1236.4 957.4 1238.5 C956.9 1240.5 987.2 1245.7 987.4 1248.1 C987.7 1250.5 962.5 1259.7 959.8 1262.5 C957.0 1265.3 958.9 1273.7 959.8 1275.7 C960.6 1277.8 965.9 1281.4 968.2 1282.9 C970.5 1284.5 980.2 1289.7 982.6 1291.3 C985.0 1293.0 992.7 1297.8 992.2 1299.7 C991.7 1301.7 980.2 1308.4 977.8 1310.6 C975.4 1312.7 970.6 1319.1 968.2 1321.4 C965.8 1323.7 955.5 1331.2 953.8 1333.4 C952.1 1335.5 951.4 1341.1 951.4 1343.0 C951.4 1344.9 954.3 1350.4 953.8 1352.6 C953.3 1354.8 947.5 1362.9 946.6 1364.6 C945.6 1366.3 944.3 1368.2 944.2 1369.6 C944.0 1371.1 944.9 1377.1 945.4 1379.2 C945.8 1381.4 948.7 1389.1 949.0 1391.2 C949.2 1393.4 948.7 1399.3 947.8 1400.8 C946.8 1402.4 941.6 1405.5 939.4 1406.9 C937.1 1408.2 927.2 1412.6 924.9 1414.1 C922.7 1415.5 917.9 1420.2 916.5 1421.3 C915.2 1422.3 910.9 1423.6 911.7 1424.4 C912.6 1425.2 921.7 1428.4 924.9 1429.7 C928.2 1430.9 939.6 1435.3 944.2 1436.9 C948.7 1438.4 965.8 1444.2 970.6 1445.3 C975.4 1446.4 988.1 1447.1 992.2 1447.7 C996.3 1448.3 1007.4 1450.3 1011.4 1451.3 C1015.5 1452.3 1030.9 1456.7 1033.1 1457.3" fill="none" stroke="#172d5c" stroke-width="6.2" stroke-linecap="round" stroke-linejoin="round"/>
<path d="M1033.1 1492.6 C1030.9 1493.1 1015.5 1496.0 1011.4 1497.0 C1007.4 1497.9 996.5 1500.8 992.2 1501.8 C987.9 1502.7 972.5 1505.6 968.2 1506.6 C963.9 1507.5 953.1 1510.4 949.0 1511.4 C944.9 1512.3 930.9 1515.1 927.3 1516.2 C923.7 1517.3 915.9 1520.9 912.9 1522.2 C909.9 1523.5 899.0 1527.6 897.3 1529.4 C895.6 1531.2 895.9 1538.4 896.1 1540.2 C896.3 1542.0 898.3 1546.0 899.7 1547.4 C901.2 1548.9 909.0 1553.5 910.5 1554.6 C912.1 1555.7 912.9 1557.0 915.3 1558.4 C917.7 1559.9 930.5 1566.6 934.6 1569.3 C938.6 1571.9 952.1 1582.1 956.2 1584.9 C960.3 1587.6 972.3 1594.5 975.4 1596.9 C978.5 1599.3 985.8 1606.7 987.4 1608.9 C989.0 1611.1 991.7 1616.2 991.0 1618.5 C990.3 1620.8 980.8 1629.2 980.2 1631.7 C979.6 1634.2 984.0 1641.8 985.0 1643.7 C986.0 1645.7 987.9 1649.0 989.8 1650.9 C991.7 1652.9 1001.3 1660.4 1004.2 1663.0 C1007.1 1665.5 1016.4 1674.0 1018.6 1676.2 C1020.9 1678.3 1025.6 1683.3 1027.1 1684.6 C1028.5 1685.9 1032.5 1688.9 1033.1 1689.4" fill="none" stroke="#172d5c" stroke-width="6.2" stroke-linecap="round" stroke-linejoin="round"/>
</g>
<path d="M255.80 1873.5 v-14 M337.29 1873.5 v-14 M395.10 1873.5 v-14 M439.95 1873.5 v-14 M476.59 1873.5 v-14 M507.57 1873.5 v-14 M534.40 1873.5 v-14 M558.08 1873.5 v-14 M579.25 1873.5 v-28 M718.55 1873.5 v-14 M800.04 1873.5 v-14 M857.85 1873.5 v-14 M902.70 1873.5 v-14 M939.34 1873.5 v-14 M970.32 1873.5 v-14 M997.15 1873.5 v-14 M1020.83 1873.5 v-14 M116.5 1795.83 h14 M116.5 1750.40 h14 M116.5 1718.17 h14 M116.5 1693.17 h14 M116.5 1672.74 h14 M116.5 1655.46 h14 M116.5 1640.50 h14 M116.5 1627.31 h14 M116.5 1615.50 h28 M116.5 1537.83 h14 M116.5 1492.40 h14 M116.5 1460.17 h14 M116.5 1435.17 h14 M116.5 1414.74 h14 M116.5 1397.46 h14 M116.5 1382.50 h14 M116.5 1369.31 h14 M116.5 1357.50 h28 M116.5 1279.83 h14 M116.5 1234.40 h14 M116.5 1202.17 h14" stroke="#000" stroke-width="2.3" fill="none"/>
<path d="M116.5 1177.2 H1042.0 V1873.5 H116.5 Z" stroke="#000" stroke-width="2.5" fill="none"/>
<text x="52.5" y="31" class="tk">10<tspan class="sup" dx="1.5" dy="-13.8">2</tspan></text>
<text x="64.5" y="203.5" class="tk">10</text>
<text x="84.5" y="377" class="tk">1</text>
<text x="41.5" y="551.4" class="tk">10<tspan class="sup" dx="1.5" dy="-13.8">−1</tspan></text>
<text x="41.5" y="725.2" class="tk">10<tspan class="sup" dx="1.5" dy="-13.8">−2</tspan></text>
<text x="103" y="747.5" class="tk">10<tspan class="sup" dx="1.5" dy="-13.8">−4</tspan></text>
<text x="322.5" y="747.5" class="tk">10<tspan class="sup" dx="1.5" dy="-13.8">−3</tspan></text>
<text x="547" y="747.5" class="tk">10<tspan class="sup" dx="1.5" dy="-13.8">−2</tspan></text>
<text x="779" y="747.5" class="tk">10<tspan class="sup" dx="1.5" dy="-13.8">−1</tspan></text>
<text x="1031" y="747.5" class="tk">1</text>
<text x="64.5" y="1371" class="tk">10</text>
<text x="84.5" y="1628.5" class="tk">1</text>
<text x="41.5" y="1887.5" class="tk">10<tspan class="sup" dx="1.5" dy="-13.8">−1</tspan></text>
<text x="84.5" y="1910.5" class="tk">10<tspan class="sup" dx="1.5" dy="-13.8">−2</tspan></text>
<text x="547" y="1910.5" class="tk">10<tspan class="sup" dx="1.5" dy="-13.8">−1</tspan></text>
<text x="1031" y="1910.5" class="tk">1</text>
<text x="154" y="48" class="pl">a</text>
<text x="154" y="1222" class="pl" textLength="29" lengthAdjust="spacingAndGlyphs">b</text>
<text x="191" y="479.1" class="ann" textLength="201.5" lengthAdjust="spacingAndGlyphs">MicroBooNE</text>
<text x="188.5" y="531.4" class="ann" textLength="272" lengthAdjust="spacingAndGlyphs">Profiled, 95% CL</text>
<text x="461.5" y="543.4" class="ann" style="font-size:20px;stroke-width:0.6px">s</text>
<text x="188.8" y="585.9" class="ann b" textLength="73" lengthAdjust="spacingAndGlyphs">BNB</text>
<text x="272" y="585.9" class="ann" textLength="172.3" lengthAdjust="spacingAndGlyphs">6.369 x 10</text>
<text x="444.8" y="572.5" class="ann" style="font-size:21px;stroke-width:0.6px" textLength="25" lengthAdjust="spacingAndGlyphs">20</text>
<text x="476.8" y="585.9" class="ann" textLength="73" lengthAdjust="spacingAndGlyphs">POT</text>
<text x="188.8" y="639.1" class="ann b" textLength="88.5" lengthAdjust="spacingAndGlyphs">NuMI</text>
<text x="288" y="639.1" class="ann" textLength="169.3" lengthAdjust="spacingAndGlyphs">1.054 x 10</text>
<text x="457.8" y="625.5" class="ann" style="font-size:21px;stroke-width:0.6px" textLength="23" lengthAdjust="spacingAndGlyphs">21</text>
<text x="490.5" y="639.1" class="ann" textLength="73.5" lengthAdjust="spacingAndGlyphs">POT</text>
<text x="191" y="1639.5" class="ann" textLength="201.5" lengthAdjust="spacingAndGlyphs">MicroBooNE</text>
<text x="188.5" y="1691.8" class="ann" textLength="272" lengthAdjust="spacingAndGlyphs">Profiled, 95% CL</text>
<text x="461.5" y="1703.8" class="ann" style="font-size:20px;stroke-width:0.6px">s</text>
<text x="188.8" y="1746.3" class="ann b" textLength="73" lengthAdjust="spacingAndGlyphs">BNB</text>
<text x="272" y="1746.3" class="ann" textLength="172.3" lengthAdjust="spacingAndGlyphs">6.369 x 10</text>
<text x="444.8" y="1732.8999999999999" class="ann" style="font-size:21px;stroke-width:0.6px" textLength="25" lengthAdjust="spacingAndGlyphs">20</text>
<text x="476.8" y="1746.3" class="ann" textLength="73" lengthAdjust="spacingAndGlyphs">POT</text>
<text x="188.8" y="1799.5" class="ann b" textLength="88.5" lengthAdjust="spacingAndGlyphs">NuMI</text>
<text x="288" y="1799.5" class="ann" textLength="169.3" lengthAdjust="spacingAndGlyphs">1.054 x 10</text>
<text x="457.8" y="1785.9" class="ann" style="font-size:21px;stroke-width:0.6px" textLength="23" lengthAdjust="spacingAndGlyphs">21</text>
<text x="490.5" y="1799.5" class="ann" textLength="73.5" lengthAdjust="spacingAndGlyphs">POT</text>
<text x="511.1" y="801.0" class="lab" textLength="52" lengthAdjust="spacingAndGlyphs">sin</text>
<text x="564.1" y="785.5" class="lab2" style="font-size:21.5px">2</text>
<text x="577.6" y="801.0" class="lab2" textLength="44" lengthAdjust="spacingAndGlyphs">2θ</text>
<text x="622.1" y="813.0" class="lab" style="font-size:21px" textLength="24" lengthAdjust="spacingAndGlyphs">μe</text>
<text x="511.1" y="1962.2" class="lab" textLength="52" lengthAdjust="spacingAndGlyphs">sin</text>
<text x="564.1" y="1946.7" class="lab2" style="font-size:21.5px">2</text>
<text x="577.6" y="1962.2" class="lab2" textLength="44" lengthAdjust="spacingAndGlyphs">2θ</text>
<text x="622.1" y="1974.2" class="lab" style="font-size:21px" textLength="24" lengthAdjust="spacingAndGlyphs">ee</text>
<g transform="translate(33.3,364.5) rotate(-90)">
<text x="-88.7" y="0" class="ylab">Δ</text>
<text x="-61.3" y="0" class="ylab" textLength="29.3" lengthAdjust="spacingAndGlyphs">m</text>
<text x="-29" y="-15" class="ylab" style="font-size:21px">2</text>
<text x="-30.5" y="11.6" class="ylab" style="font-size:20.5px" textLength="26" lengthAdjust="spacingAndGlyphs">41</text>
<text x="6" y="0" class="ylab">(eV</text>
<text x="66" y="-15" class="ylab" style="font-size:21px">2</text>
<text x="77.5" y="0" class="ylab">)</text>
</g>
<g transform="translate(33.3,1525) rotate(-90)">
<text x="-88.7" y="0" class="ylab">Δ</text>
<text x="-61.3" y="0" class="ylab" textLength="29.3" lengthAdjust="spacingAndGlyphs">m</text>
<text x="-29" y="-15" class="ylab" style="font-size:21px">2</text>
<text x="-30.5" y="11.6" class="ylab" style="font-size:20.5px" textLength="26" lengthAdjust="spacingAndGlyphs">41</text>
<text x="6" y="0" class="ylab">(eV</text>
<text x="66" y="-15" class="ylab" style="font-size:21px">2</text>
<text x="77.5" y="0" class="ylab">)</text>
</g>
<path d="M118.2 873.4 H127.9 M140.4 873.4 H145 M157.5 873.4 H167.3" stroke="#c7511d" stroke-width="6.6" stroke-linecap="round" fill="none"/>
<path d="M118.2 925.6 H169.8" stroke="#c7511d" stroke-width="6.6" stroke-linecap="round" fill="none"/>
<path d="M118 981 H167" stroke="#4d968f" stroke-width="6.4" stroke-linecap="round" stroke-dasharray="0.01 9.58" fill="none"/>
<rect x="614.5" y="858.6999999999999" width="53" height="28.4" fill="#99d84f"/>
<rect x="614.5" y="911.5" width="53" height="28.2" fill="#ddad2d"/>
<path d="M616 981 H666.6" stroke="#172d5c" stroke-width="6.6" stroke-linecap="round" fill="none"/>
<text x="189.5" y="886.1" class="leg" textLength="286" lengthAdjust="spacingAndGlyphs">Data, 2023 Result</text>
<text x="189.5" y="938.3000000000001" class="leg" textLength="324.5" lengthAdjust="spacingAndGlyphs">Data, Current Result</text>
<text x="189.5" y="993.4" class="leg" textLength="293.5" lengthAdjust="spacingAndGlyphs">Median Sensitivity</text>
<text x="685" y="886.1" class="legr">±</text>
<text x="714.5" y="886.1" class="legr">1</text>
<text x="744" y="886.1" class="legr">σ</text>
<text x="773" y="886.1" class="leg" textLength="148.5" lengthAdjust="spacingAndGlyphs">expected</text>
<text x="685" y="938.3000000000001" class="legr">±</text>
<text x="714.5" y="938.3000000000001" class="legr">2</text>
<text x="744" y="938.3000000000001" class="legr">σ</text>
<text x="773" y="938.3000000000001" class="leg" textLength="148.5" lengthAdjust="spacingAndGlyphs">expected</text>
<text x="687" y="993.4" class="leg" textLength="246" lengthAdjust="spacingAndGlyphs">NuMI-only Data</text>
<path d="M118.2 2035 H127.9 M140.4 2035 H145 M157.5 2035 H167.3" stroke="#c7511d" stroke-width="6.6" stroke-linecap="round" fill="none"/>
<path d="M118.2 2088 H169.8" stroke="#c7511d" stroke-width="6.6" stroke-linecap="round" fill="none"/>
<path d="M118 2143 H167" stroke="#4d968f" stroke-width="6.4" stroke-linecap="round" stroke-dasharray="0.01 9.58" fill="none"/>
<rect x="614.5" y="2020.3" width="53" height="28.4" fill="#99d84f"/>
<rect x="614.5" y="2073.9" width="53" height="28.2" fill="#ddad2d"/>
<path d="M616 2143 H666.6" stroke="#172d5c" stroke-width="6.6" stroke-linecap="round" fill="none"/>
<text x="189.5" y="2047.7" class="leg" textLength="286" lengthAdjust="spacingAndGlyphs">Data, 2023 Result</text>
<text x="189.5" y="2100.7" class="leg" textLength="324.5" lengthAdjust="spacingAndGlyphs">Data, Current Result</text>
<text x="189.5" y="2155.4" class="leg" textLength="293.5" lengthAdjust="spacingAndGlyphs">Median Sensitivity</text>
<text x="685" y="2047.7" class="legr">±</text>
<text x="714.5" y="2047.7" class="legr">1</text>
<text x="744" y="2047.7" class="legr">σ</text>
<text x="773" y="2047.7" class="leg" textLength="148.5" lengthAdjust="spacingAndGlyphs">expected</text>
<text x="685" y="2100.7" class="legr">±</text>
<text x="714.5" y="2100.7" class="legr">2</text>
<text x="744" y="2100.7" class="legr">σ</text>
<text x="773" y="2100.7" class="leg" textLength="148.5" lengthAdjust="spacingAndGlyphs">expected</text>
<text x="687" y="2155.4" class="leg" textLength="246" lengthAdjust="spacingAndGlyphs">NuMI-only Data</text>
</svg></body></html>
